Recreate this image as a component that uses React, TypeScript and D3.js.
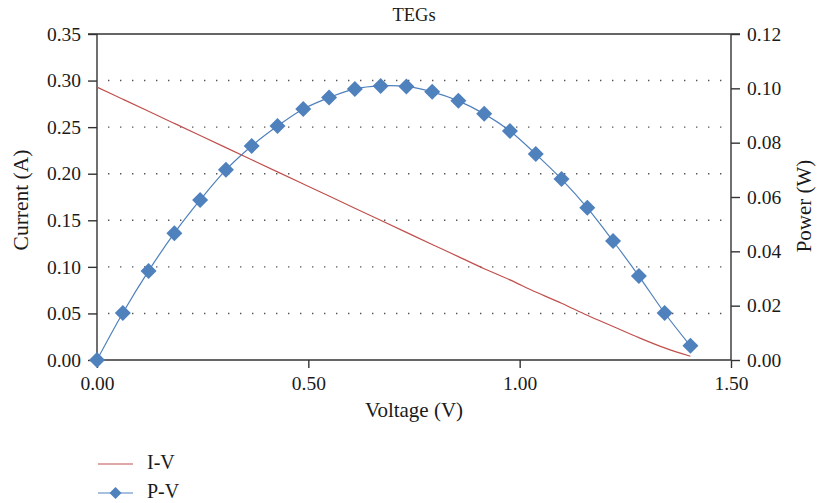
import React, { useEffect, useRef } from 'react';
import * as d3 from 'd3';

// voltage steps (V), shared by both series
const voltage = [
  0.0, 0.061, 0.122, 0.183, 0.244, 0.305, 0.366, 0.427, 0.488, 0.549, 0.61, 0.671,
  0.732, 0.793, 0.855, 0.916, 0.977, 1.038, 1.099, 1.16, 1.221, 1.282, 1.343, 1.404,
];
// I-V curve (A)
const current = [
  0.293, 0.28, 0.267, 0.254, 0.241, 0.228, 0.215, 0.202, 0.189, 0.176, 0.163, 0.15,
  0.137, 0.124, 0.111, 0.098, 0.086, 0.073, 0.061, 0.048, 0.036, 0.024, 0.013, 0.004,
];
// P-V curve (W)
const power = [
  0.0, 0.0173, 0.0328, 0.0467, 0.0589, 0.07, 0.0788, 0.0861, 0.0924, 0.0966, 0.0998, 0.1009,
  0.1007, 0.0987, 0.0954, 0.0906, 0.0843, 0.0758, 0.0666, 0.056, 0.0438, 0.0309, 0.0173, 0.0052,
];

const xTicks = [0, 0.5, 1.0, 1.5];
const leftTicks = [0, 0.05, 0.1, 0.15, 0.2, 0.25, 0.3, 0.35];
const rightTicks = [0, 0.02, 0.04, 0.06, 0.08, 0.1, 0.12];
const legendLabels = ['I-V', 'P-V'];

const RED = '#c0504d';
const BLUE = '#4f81bd';
const AXIS = '#333';
const INK = '#1a1a1a';
const FONT = '"Liberation Serif", "Times New Roman", serif';

export default function App() {
  const node = useRef<SVGSVGElement>(null);

  useEffect(() => {
    const svg = d3.select(node.current);
    svg.selectAll('*').remove();

    const left = 97, right = 731, top = 34, bottom = 360;

    const x = d3.scaleLinear().domain([0, 1.5]).range([left, right]);
    const yL = d3.scaleLinear().domain([0, 0.35]).range([bottom, top]);
    const yR = d3.scaleLinear().domain([0, 0.12]).range([bottom, top]);

// dotted gridlines from the left axis
    svg.append('g')
      .selectAll('line')
      .data(leftTicks.filter(t => t > 0 && t < 0.35))
      .join('line')
      .attr('x1', left + 11)
      .attr('x2', right - 6)
      .attr('y1', d => yL(d))
      .attr('y2', d => yL(d))
      .attr('stroke', '#555')
      .attr('stroke-width', 1.4)
      .attr('stroke-dasharray', '1.4 10.6');

// axes
    const axL = svg.append('g').attr('transform', `translate(${left},0)`)
      .call(d3.axisLeft(yL).tickValues(leftTicks).tickFormat(d3.format('.2f')).tickSize(9).tickPadding(7));
    const axR = svg.append('g').attr('transform', `translate(${right},0)`)
      .call(d3.axisRight(yR).tickValues(rightTicks).tickFormat(d3.format('.2f')).tickSize(9).tickPadding(7));
    const axB = svg.append('g').attr('transform', `translate(0,${bottom})`)
      .call(d3.axisBottom(x).tickValues(xTicks).tickFormat(d3.format('.2f')).tickSize(8).tickPadding(8));
    const axT = svg.append('g').attr('transform', `translate(0,${top})`)
      .call(d3.axisTop(x).tickValues([]).tickSizeOuter(0));

    [axL, axR, axB, axT].forEach(ax => {
      ax.select('.domain').attr('stroke', AXIS).attr('stroke-width', 1.4);
      ax.selectAll('.tick line').attr('stroke', AXIS).attr('stroke-width', 1.4);
      ax.selectAll('text')
        .attr('fill', INK)
        .style('font-family', FONT)
        .style('font-size', '19.5px');
    });
    axL.select('.domain').attr('d', `M0,${bottom}V${top}`);
    axR.select('.domain').attr('d', `M0,${bottom}V${top}`);
    axB.select('.domain').attr('d', `M${left},0H${right}`);
    axT.select('.domain').attr('d', `M${left - 9},0H${right + 9}`);

// series
    const iv = voltage.map((v, i) => [x(v), yL(current[i])] as [number, number]);
    const pv = voltage.map((v, i) => [x(v), yR(power[i])] as [number, number]);
    const line = d3.line().curve(d3.curveCatmullRom);

    svg.append('path')
      .attr('d', line(iv))
      .attr('fill', 'none')
      .attr('stroke', RED)
      .attr('stroke-width', 1.2);

    svg.append('path')
      .attr('d', line(pv))
      .attr('fill', 'none')
      .attr('stroke', BLUE)
      .attr('stroke-width', 1.2);

    const diamond = (cx: number, cy: number, r: number) =>
      `M${cx},${cy - r}L${cx + r},${cy}L${cx},${cy + r}L${cx - r},${cy}Z`;

    svg.append('g')
      .selectAll('path')
      .data(pv)
      .join('path')
      .attr('d', d => diamond(d[0], d[1], 8))
      .attr('fill', BLUE);

// titles
    const text = (tx: number, ty: number, s: string, size: number, rot = 0) =>
      svg.append('text')
        .attr('transform', `translate(${tx},${ty}) rotate(${rot})`)
        .attr('text-anchor', 'middle')
        .attr('dominant-baseline', 'middle')
        .attr('fill', INK)
        .style('font-family', FONT)
        .style('font-size', `${size}px`)
        .text(s);

    text((left + right) / 2, 17, 'TEGs', 18.5);
    text((left + right) / 2, 412, 'Voltage (V)', 21);
    text(23, 200, 'Current (A)', 21.5, -90);
    text(806, 206, 'Power (W)', 21, -90);

// legend
    const lg = svg.append('g');
    legendLabels.forEach((label, i) => {
      const ly = 464 + i * 29;
      lg.append('line')
        .attr('x1', 98).attr('x2', 133)
        .attr('y1', ly).attr('y2', ly)
        .attr('stroke', i === 0 ? RED : BLUE)
        .attr('stroke-width', 1.2);
      if (i === 1) lg.append('path').attr('d', diamond(115.5, ly, 6)).attr('fill', BLUE);
      lg.append('text')
        .attr('x', 147).attr('y', ly)
        .attr('dominant-baseline', 'middle')
        .attr('fill', INK)
        .style('font-family', FONT)
        .style('font-size', '20px')
        .text(label);
    });
  }, []);

  return (
    <svg
      ref={node}
      width={817}
      height={503}
      style={{ position: 'absolute', left: 0, top: 0, background: '#fff' }}
    />
  );
}
